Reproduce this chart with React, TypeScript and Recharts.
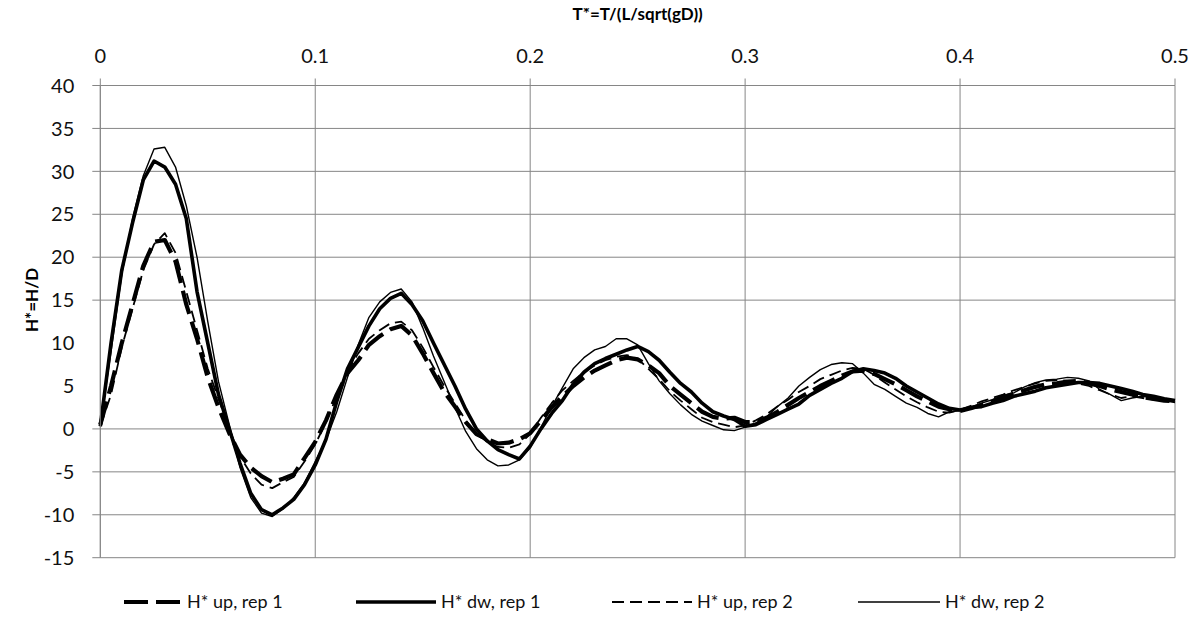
import React from 'react';
import { LineChart, Line, XAxis, YAxis, CartesianGrid, ReferenceLine } from 'recharts';

const tStar = [
  0, 0.005, 0.01, 0.015, 0.02, 0.025, 0.03, 0.035, 0.04, 0.045,
  0.05, 0.055, 0.06, 0.065, 0.07, 0.075, 0.08, 0.085, 0.09, 0.095,
  0.1, 0.105, 0.11, 0.115, 0.12, 0.125, 0.13, 0.135, 0.14, 0.145,
  0.15, 0.155, 0.16, 0.165, 0.17, 0.175, 0.18, 0.185, 0.19, 0.195,
  0.2, 0.205, 0.21, 0.215, 0.22, 0.225, 0.23, 0.235, 0.24, 0.245,
  0.25, 0.255, 0.26, 0.265, 0.27, 0.275, 0.28, 0.285, 0.29, 0.295,
  0.3, 0.305, 0.31, 0.315, 0.32, 0.325, 0.33, 0.335, 0.34, 0.345,
  0.35, 0.355, 0.36, 0.365, 0.37, 0.375, 0.38, 0.385, 0.39, 0.395,
  0.4, 0.405, 0.41, 0.415, 0.42, 0.425, 0.43, 0.435, 0.44, 0.445,
  0.45, 0.455, 0.46, 0.465, 0.47, 0.475, 0.48, 0.485, 0.49, 0.495,
  0.5,
];

const upRep1 = [
  0.5, 5, 10, 14.5, 19, 21.8, 22, 19.5, 14.5, 10.5,
  6, 2.5, -0.5, -3, -4.5, -5.5, -6.2, -5.8, -5.3, -3.4,
  -1.5, 1, 4, 6.5, 8, 9.8, 10.8, 11.6, 12, 10.9,
  8.8, 6.5, 4.3, 2.6, 0.8, -0.6, -1.2, -1.7, -1.6, -1.2,
  -0.5, 1, 2.5, 3.8, 5, 6, 6.8, 7.4, 8, 8.3,
  8.1, 7.4, 6.5, 5.0, 4.0, 3.0, 2.0, 1.4, 1.2, 1.3,
  0.8, 0.8, 1.3, 2.0, 2.8, 3.6, 4.3, 5.0, 5.6, 6.2,
  6.7, 6.8, 6.4, 5.8, 5.2, 4.5, 3.8, 3.2, 2.6, 2.3,
  2.1, 2.4, 2.8, 3.2, 3.7, 4.1, 4.5, 4.9, 5.2, 5.3,
  5.5, 5.6, 5.3, 5.0, 4.6, 4.3, 4.0, 3.7, 3.5, 3.3,
  3.2,
];

const dwRep1 = [
  0.3, 10, 18.5, 24, 29, 31.2, 30.5, 28.5, 24.5, 16,
  10, 4, 0, -4, -7.5, -9.4, -10, -9.2, -8.2, -6.5,
  -4.2, -1.2, 3.2, 7, 9.5, 12, 14, 15.2, 15.8, 14.5,
  12.6, 10, 7.5, 5, 2.3, 0, -1.4, -2.4, -3.0, -3.5,
  -2.0, 0, 1.8, 3.3, 5.2, 6.6, 7.6, 8.2, 8.7, 9.2,
  9.6, 9.0, 8.0, 6.6, 5.3, 4.3, 3.0, 2.0, 1.5, 1.1,
  0.3, 0.5, 1.1, 1.7, 2.3, 2.9, 3.9, 4.6, 5.3, 5.9,
  6.7, 7.0, 6.8, 6.5, 5.9, 5.0, 4.3, 3.6, 2.9, 2.4,
  2.2, 2.5, 2.6, 3.0, 3.3, 3.8, 4.1, 4.4, 4.8, 5.0,
  5.2, 5.4, 5.4, 5.3, 5.0, 4.7, 4.4, 4.0, 3.8, 3.5,
  3.3,
];

const upRep2 = [
  0.3, 4, 9.5, 14, 18.5, 21.5, 22.8, 20.5, 16, 11.5,
  7, 3.5, 0, -3.2, -5.2, -6.5, -6.9, -6.2, -5.6, -3.8,
  -1.8, 0.8, 3.8, 6.8, 8.8, 10.5, 11.5, 12.3, 12.5, 11.5,
  9.5, 7.2, 5.0, 3.0, 1.0, -0.6, -1.5, -2.1, -2.2, -1.8,
  -0.6, 1.3, 3.0, 4.5, 5.6, 6.6, 7.4, 8.0, 8.4, 8.6,
  8.2, 7.0, 5.8, 4.4, 3.3, 2.3, 1.3, 0.8, 0.5, 0.2,
  0.4, 1.0, 1.7, 2.6, 3.4, 4.3, 5.0, 5.8, 6.3, 6.8,
  7.1, 7.0, 6.3, 5.4, 4.6, 3.8, 3.1, 2.5, 2.0, 1.9,
  2.2, 2.7, 3.2, 3.6, 4.0, 4.5, 4.9, 5.3, 5.6, 5.7,
  5.6, 5.3, 5.0, 4.5, 4.0, 3.6, 3.8, 3.6, 3.4, 3.3,
  3.1,
];

const dwRep2 = [
  0.5, 9, 18, 24.5, 29.5, 32.6, 32.8, 30.5, 26, 20,
  12.5, 5.5, 0.5, -4.5, -8, -9.8, -10.2, -9.3, -8, -6.3,
  -3.8, -1.3, 2, 6, 9.8, 13, 14.8, 15.9, 16.3, 14.8,
  11.8, 8.5, 5.5, 2.5, -0.3, -2.3, -3.6, -4.3, -4.2, -3.6,
  -2.2, 0.2, 2.6, 4.8, 7, 8.3, 9.2, 9.6, 10.5, 10.5,
  9.8, 7.6, 5.6, 4.1, 2.8, 1.7, 0.9, 0.4, -0.1, -0.2,
  0.2, 0.7, 1.4, 2.6, 3.6, 5.0, 6.0, 6.9, 7.5, 7.7,
  7.6, 6.5, 5.2, 4.6, 3.8, 3.0, 2.5, 1.8, 1.4, 2.0,
  2.1, 2.5, 3.0, 3.4, 3.9, 4.2, 4.9, 5.4, 5.7, 5.8,
  6.0, 5.9, 5.6, 4.6, 4.0, 3.3, 3.6, 3.8, 3.6, 3.4,
  3.3,
];

const xTicks = [0, 0.1, 0.2, 0.3, 0.4, 0.5];
const yTicks = [-15, -10, -5, 0, 5, 10, 15, 20, 25, 30, 35, 40];
const hGridValues = [40, 35, 30, 25, 20, 15, 0, -5, -10, -15];

const seriesNames = ['H* up, rep 1', 'H* dw, rep 1', 'H* up, rep 2', 'H* dw, rep 2'];
const seriesKeys = ['upRep1', 'dwRep1', 'upRep2', 'dwRep2'];

const data = tStar.map((t, i) => ({
  t,
  upRep1: upRep1[i],
  dwRep1: dwRep1[i],
  upRep2: upRep2[i],
  dwRep2: dwRep2[i],
}));

const FONT = 'Lato, "Noto Sans", sans-serif';
const GRID = '#868686';
const W = 1204;
const H = 624;
const PLOT_TOP = 85.5;
const Y_AXIS_W = 100.3;
const PLOT_W = 1074.7;

const styles = [
  { stroke: '#000', strokeWidth: 4.2, strokeDasharray: '24 8' },
  { stroke: '#000', strokeWidth: 3.6 },
  { stroke: '#000', strokeWidth: 1.8, strokeDasharray: '12 6' },
  { stroke: '#000', strokeWidth: 1.4 },
];

const XTick = (props: any) => {
  const { x, payload } = props;
  return (
    <text x={x} y={PLOT_TOP - 23} textAnchor="middle" fontFamily={FONT} fontSize={20} fill="#111">
      {String(payload.value)}
    </text>
  );
};

const YTick = (props: any) => {
  const { y, payload } = props;
  const v = payload.value;
  const showLine = hGridValues.indexOf(v) >= 0;
  return (
    <g>
      {showLine && <line x1={Y_AXIS_W - 8} x2={Y_AXIS_W} y1={y} y2={y} stroke={GRID} strokeWidth={1} />}
      <text x={Y_AXIS_W - 26} y={y} dy="0.36em" textAnchor="end" fontFamily={FONT} fontSize={20} fill="#111">
        {String(v)}
      </text>
    </g>
  );
};

const legendPos = [
  { lineX1: 124, textX: 187 },
  { lineX1: 356, textX: 441 },
  { lineX1: 612, textX: 697 },
  { lineX1: 858, textX: 945 },
];

export default function App() {
  return (
    <div style={{ position: 'relative', width: W, height: H, margin: '-8px 0 0 -8px', background: '#fff' }}>
      <LineChart
        width={W}
        height={H}
        data={data}
        margin={{ top: 0, right: W - Y_AXIS_W - PLOT_W, bottom: 66.3, left: 0 }}
      >
        <CartesianGrid horizontal={false} vertical={true} stroke={GRID} strokeWidth={1} />
        {hGridValues.map((v) => (
          <ReferenceLine key={v} y={v} stroke={GRID} strokeWidth={1} ifOverflow="extendDomain" />
        ))}
        <XAxis
          dataKey="t"
          type="number"
          domain={[0, 0.5]}
          ticks={xTicks}
          orientation="top"
          height={PLOT_TOP}
          axisLine={false}
          tickLine={{ stroke: GRID }}
          tickSize={7}
          tick={<XTick />}
          interval={0}
          label={{
            content: () => (
              <text x={Y_AXIS_W + PLOT_W / 2} y={20} textAnchor="middle" fontFamily={FONT} fontWeight="bold" fontSize={17} fill="#000">
                T*=T/(L/sqrt(gD))
              </text>
            ),
          }}
        />
        <YAxis
          type="number"
          domain={[-15, 40]}
          ticks={yTicks}
          width={Y_AXIS_W}
          axisLine={{ stroke: GRID }}
          tickLine={false}
          tick={<YTick />}
          interval={0}
          label={{
            content: () => (
              <text
                x={38}
                y={300}
                transform="rotate(-90, 38, 300)"
                textAnchor="middle"
                fontFamily={FONT}
                fontWeight="bold"
                fontSize={17}
                fill="#000"
              >
                H*=H/D
              </text>
            ),
          }}
        />
        {seriesKeys.map((k, i) => (
          <Line
            key={k}
            dataKey={k}
            name={seriesNames[i]}
            type="linear"
            dot={false}
            activeDot={false}
            isAnimationActive={false}
            strokeLinejoin="round"
            {...styles[i]}
          />
        ))}
      </LineChart>
      <svg width={W} height={30} style={{ position: 'absolute', left: 0, top: 587 }}>
        {seriesNames.map((n, i) => (
          <g key={n}>
            <line
              x1={legendPos[i].lineX1}
              x2={legendPos[i].textX - 5}
              y1={15}
              y2={15}
              stroke="#000"
              strokeWidth={styles[i].strokeWidth}
              strokeDasharray={styles[i].strokeDasharray}
            />
            <text x={legendPos[i].textX} y={15} dy="0.36em" fontFamily={FONT} fontSize={18} fill="#111">
              {n}
            </text>
          </g>
        ))}
      </svg>
    </div>
  );
}
